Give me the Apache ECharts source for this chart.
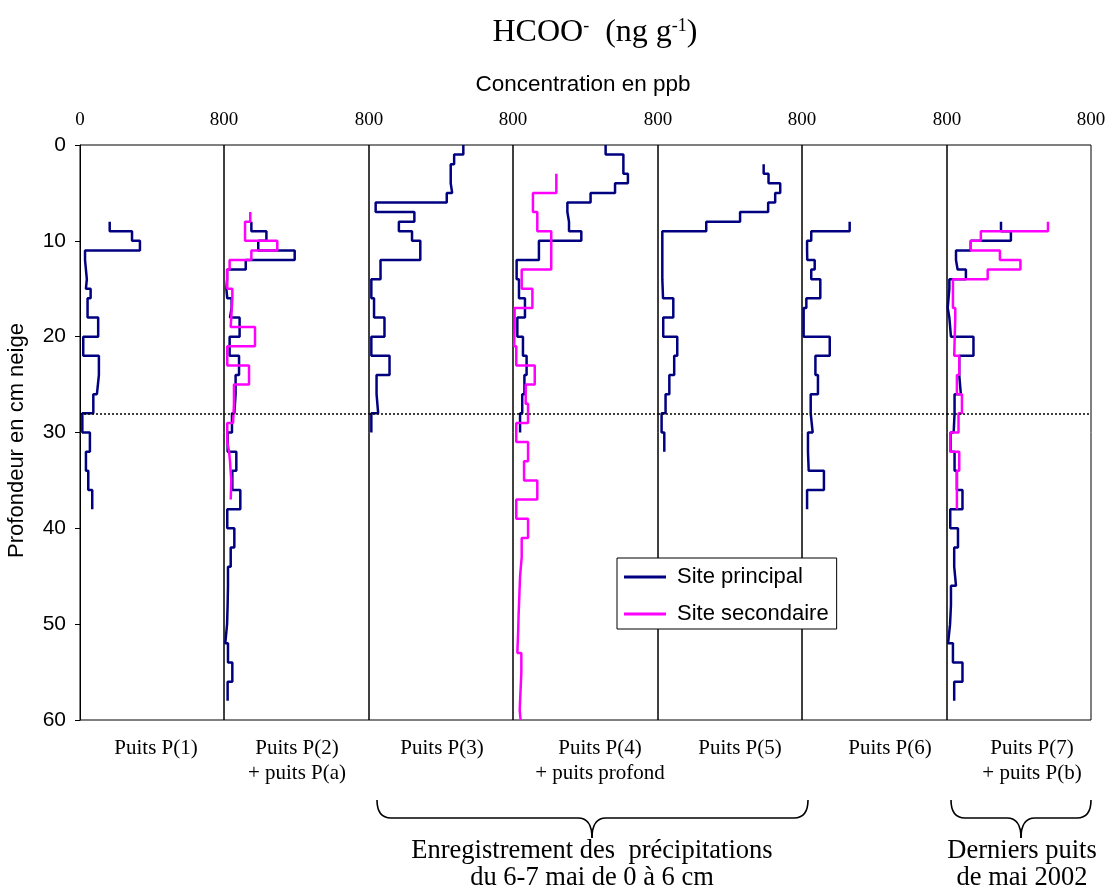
<!DOCTYPE html>
<html><head><meta charset="utf-8">
<script src="https://cdn.jsdelivr.net/npm/echarts@6/dist/echarts.min.js"></script>
<style>html,body{margin:0;padding:0;background:#fff}#c{width:1115px;height:893px}</style>
</head><body><div id="c"></div>
<script>
// ---- data (concentration in ppb per depth interval; depth boundaries in cm) ----
const xTicks = [0, 800];
const refDepth = 28;
const seriesNames = ['Site principal', 'Site secondaire'];
const panelLabels = [['Puits P(1)'], ['Puits P(2)', '+ puits P(a)'], ['Puits P(3)'], ['Puits P(4)', '+ puits profond'], ['Puits P(5)'], ['Puits P(6)'], ['Puits P(7)', '+ puits P(b)']];

const p1Depth = [8,9,10,11,12,13,14,15,16,18,20,22,24,26,28,30,32,34,36,38];
const p1Val   = [165,289,333,28,33,38,33,59,42,101,18,105,94,74,13,55,33,46,68];

const p2Depth = [8,9,10,11,12,13,14,15,16,17,18,20,22,24,26,28,30,32,34,36,38,40,42,44,46,48,50,52,54,56,58];
const p2Val   = [151,234,189,390,120,17,13,18,42,33,86,31,83,64,57,44,20,68,46,90,18,57,37,22,20,17,7,22,46,20];
const paDepth = [7,8,10,11,12,13,15,16,19,21,23,25,27,29,31,32,33,35,37];
const paVal   = [145,116,294,151,31,18,46,37,171,18,138,55,50,18,28,33,40,37];

const p3Depth = [0,1,2,3,4,5,6,7,8,9,10,12,14,16,18,20,22,24,26,28,30];
const p3Val   = [524,473,454,454,462,432,37,252,166,239,285,64,13,28,86,13,114,42,51,13];

const p4Depth = [0,1,2,3,4,5,6,7,8,9,10,12,14,16,18,20,22,24,26,28,30];
const p4Val   = [511,609,609,634,563,428,300,309,309,377,143,20,33,66,24,55,75,63,51,39];
const pfDepth = [3,5,7,9,13,15,17,19,21,23,25,27,29,31,33,35,37,39,41,43,45,47,49,51,53,55,59,60];
const pfVal   = [239,110,134,211,48,107,9,6,18,120,70,83,18,83,61,134,18,83,48,39,35,31,28,24,46,37,42];

const p5Depth = [2,3,4,5,6,7,8,9,14,16,18,20,22,24,26,28,30,32];
const p5Val   = [587,614,679,651,612,456,268,24,28,85,29,107,90,63,42,20,35];

const p6Depth = [8,9,10,11,12,13,14,16,17,20,22,24,26,28,30,32,34,36,38];
const p6Val   = [263,51,28,29,70,51,101,24,9,153,74,88,48,59,33,37,121,28];

const p7Depth = [8,9,10,11,12,13,14,15,17,18,20,22,24,26,28,30,32,34,36,38,40,42,44,46,48,50,52,54,56,58];
const p7Val   = [300,355,132,50,59,105,13,4,13,22,147,68,77,42,37,20,42,55,86,18,61,40,50,22,17,6,33,86,40];
const pbDepth = [8,9,10,11,12,13,14,17,18,22,24,26,28,30,32,34,38];
const pbVal   = [561,188,132,294,408,226,33,46,40,68,55,83,64,18,68,55];

const panels = [
  {main: [p1Depth, p1Val]},
  {main: [p2Depth, p2Val], sec: [paDepth, paVal]},
  {main: [p3Depth, p3Val]},
  {main: [p4Depth, p4Val], sec: [pfDepth, pfVal]},
  {main: [p5Depth, p5Val]},
  {main: [p6Depth, p6Val]},
  {main: [p7Depth, p7Val], sec: [pbDepth, pbVal]}
];

// ---- layout ----
const L = 80, R = 1091, T = 145, B = 720;
const PW = (R - L) / 7;
const lefts = [];
for (let i = 0; i <= 7; i++) lefts.push(Math.round(L + i * PW));
const SERIF = 'Liberation Serif', SANS = 'Liberation Sans';
const NAVY = '#000080', MAG = '#FF00FF';

function stepPoints(depths, vals) {
  const pts = [];
  for (let i = 0; i < vals.length; i++) {
    pts.push([vals[i], depths[i]]);
    pts.push([vals[i], depths[i + 1]]);
  }
  return pts;
}

const grids = [], xAxes = [], yAxes = [], series = [];
panels.forEach((p, i) => {
  grids.push({left: lefts[i], top: T, width: lefts[i + 1] - lefts[i], height: B - T,
    show: true, borderColor: '#000', borderWidth: 1, backgroundColor: 'transparent'});
  xAxes.push({gridIndex: i, type: 'value', position: 'top', min: xTicks[0], max: xTicks[1],
    interval: xTicks[1] - xTicks[0],
    axisLine: {show: false}, axisTick: {show: false}, splitLine: {show: false},
    axisLabel: {showMinLabel: i === 0, showMaxLabel: true, fontFamily: SERIF, fontSize: 19, color: '#000', margin: 15}});
  yAxes.push({gridIndex: i, type: 'value', inverse: true, min: 0, max: 60, interval: 10,
    show: i === 0,
    axisLine: {show: true, lineStyle: {color: '#000'}},
    axisTick: {show: true, inside: false, length: 5, lineStyle: {color: '#000'}},
    splitLine: {show: false},
    axisLabel: {fontFamily: SANS, fontSize: 21, color: '#000', margin: 14},
    name: 'Profondeur en cm neige', nameLocation: 'middle', nameGap: 52, nameRotate: 90,
    nameTextStyle: {fontFamily: SANS, fontSize: 22, color: '#000', padding: [0, 16, 0, 0]}});
  series.push({name: seriesNames[0], type: 'line', xAxisIndex: i, yAxisIndex: i,
    data: stepPoints(p.main[0], p.main[1]), symbol: 'none', showSymbol: false,
    lineStyle: {color: NAVY, width: 2.5}, itemStyle: {color: NAVY}, animation: false,
    markLine: {silent: true, symbol: 'none', label: {show: false}, animation: false,
      lineStyle: {type: [2, 2], color: '#000', width: 1.5}, data: [{yAxis: refDepth}]}});
  if (p.sec) {
    series.push({name: seriesNames[1], type: 'line', xAxisIndex: i, yAxisIndex: i,
      data: stepPoints(p.sec[0], p.sec[1]), symbol: 'none', showSymbol: false,
      lineStyle: {color: MAG, width: 2.5}, itemStyle: {color: MAG}, animation: false});
  }
});

// ---- annotations ----
const graphics = [];
graphics.push({type: 'text', x: 595, y: 33, style: {
  text: '{a|HCOO}{s|-}{a|  (ng g}{s|-1}{a|)}', textAlign: 'center', textVerticalAlign: 'middle',
  rich: {a: {fontFamily: SERIF, fontSize: 32, color: '#000', verticalAlign: 'bottom'},
         s: {fontFamily: SERIF, fontSize: 18, color: '#000', verticalAlign: 'top'}}}});
graphics.push({type: 'text', x: 583, y: 85, style: {text: 'Concentration en ppb', font: '22.5px "' + SANS + '"', fill: '#000', textAlign: 'center', textVerticalAlign: 'middle'}});
const labelX = [156, 297, 442, 600, 740, 890, 1032];
panelLabels.forEach((lines, i) => {
  lines.forEach((t, k) => {
    graphics.push({type: 'text', x: labelX[i], y: 748 + k * 25, style: {text: t, font: '21px "' + SERIF + '"', fill: '#000', textAlign: 'center', textVerticalAlign: 'middle'}});
  });
});
function brace(x1, x2, xc, y0, y1, y2) {
  const r = 14, st = {stroke: '#000', lineWidth: 1.6, fill: null};
  return [
    {type: 'bezierCurve', shape: {x1: x1, y1: y0, cpx1: x1, cpy1: y1, x2: x1 + r, y2: y1}, style: st},
    {type: 'line', shape: {x1: x1 + r, y1: y1, x2: xc - r, y2: y1}, style: st},
    {type: 'bezierCurve', shape: {x1: xc - r, y1: y1, cpx1: xc, cpy1: y1, x2: xc, y2: y2}, style: st},
    {type: 'bezierCurve', shape: {x1: xc, y1: y2, cpx1: xc, cpy1: y1, x2: xc + r, y2: y1}, style: st},
    {type: 'line', shape: {x1: xc + r, y1: y1, x2: x2 - r, y2: y1}, style: st},
    {type: 'bezierCurve', shape: {x1: x2 - r, y1: y1, cpx1: x2, cpy1: y1, x2: x2, y2: y0}, style: st}
  ];
}
graphics.push(...brace(377, 808, 592, 800, 818, 838));
graphics.push(...brace(951, 1091, 1021, 800, 818, 838));
const capFont = '26.5px "' + SERIF + '"';
[['Enregistrement des  précipitations', 592, 851], ['du 6-7 mai de 0 à 6 cm', 592, 878],
 ['Derniers puits', 1022, 851], ['de mai 2002', 1022, 878]].forEach(c => {
  graphics.push({type: 'text', x: c[1], y: c[2], style: {text: c[0], font: capFont, fill: '#000', textAlign: 'center', textVerticalAlign: 'middle'}});
});

const chart = echarts.init(document.getElementById('c'));
chart.setOption({
  animation: false,
  backgroundColor: '#fff',
  grid: grids, xAxis: xAxes, yAxis: yAxes, series: series,
  legend: {data: seriesNames.map(n => ({name: n, icon: 'rect'})), left: 617, top: 558, orient: 'vertical',
    itemWidth: 42, itemHeight: 3, itemGap: 15, padding: [8, 8, 4, 7],
    borderColor: '#000', borderWidth: 1, backgroundColor: '#fff',
    textStyle: {fontFamily: SANS, fontSize: 22, color: '#000', padding: [0, 0, 0, 6]}},
  graphic: graphics
});
</script></body></html>
